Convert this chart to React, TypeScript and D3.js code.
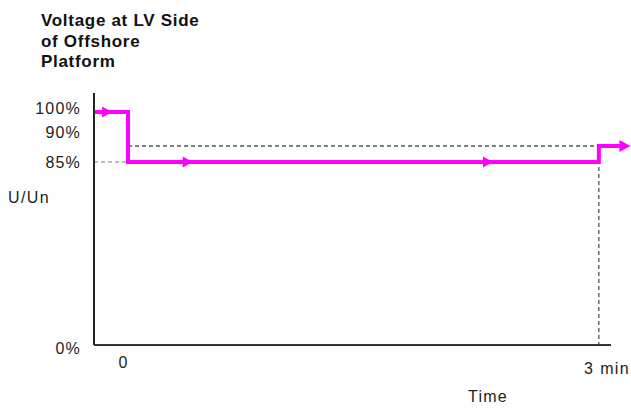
import React from "react";
import * as d3 from "d3";

const titleLines = ["Voltage at LV Side", "of Offshore", "Platform"];
// voltage levels (percent) used in the schematic
const yTickValues = [100, 90, 85, 0];
const yTickLabels = ["100%", "90%", "85%", "0%"];
const xTickValues = [0, 3];
const xTickLabels = ["0", "3 min"];
// magenta voltage trace: [time (min), U/Un %]
const traceTime = [-0.21, 0, 0, 2.98, 2.98, 3.18];
const traceLevel = [100, 100, 85, 85, 90, 90];
// direction arrows along the trace: [time, level]
const arrowTime = [-0.1, 0.41, 2.31];
const arrowLevel = [100, 85, 85];
const refLevelHigh = 90;
const refLevelLow = 85;

const W = 631;
const H = 410;

export default function App() {
  const x = d3.scaleLinear().domain([0, 3]).range([128, 602]);
  // schematic, non-uniform vertical scale
  const y = d3.scaleLinear().domain([0, 85, 90, 100]).range([345, 162, 146, 112]);
  const yLabel = d3.scaleLinear().domain([0, 85, 90, 100]).range([348, 162, 132, 108.5]);

  const xAxisStart = x.invert(94);
  const xAxisEnd = x.invert(611);
  const yAxisTop = y.invert(93);

  const pts: [number, number][] = traceTime.map((t, i) => [x(t), y(traceLevel[i])]);
  const line = d3.line();
  const lastIdx = pts.length - 1;
  const tip = pts[lastIdx];
  const shaftEnd: [number, number] = [tip[0] - 9, tip[1]];
  const shaft = [...pts.slice(0, lastIdx), shaftEnd];

  const tri = (cx: number, cy: number, len: number, half: number) =>
    `M${cx},${cy} L${cx - len},${cy - half} L${cx - len},${cy + half} Z`;

  const font = "'Liberation Sans', Arial, sans-serif";
  const grayDark = "#555";

  return (
    <svg
      width={W}
      height={H}
      style={{ position: "absolute", left: 0, top: 0, background: "#fff" }}
    >
      {titleLines.map((t, i) => (
        <text
          key={t}
          x={41}
          y={26 + i * 20.5}
          fontFamily={font}
          fontWeight="bold"
          fontSize={17}
          letterSpacing={0.7}
          fill="#111"
        >
          {t}
        </text>
      ))}

      {/* reference dashed lines */}
      <line
        x1={x(0)}
        x2={x(2.98)}
        y1={y(refLevelHigh)}
        y2={y(refLevelHigh)}
        stroke={grayDark}
        strokeWidth={1.3}
        strokeDasharray="4,3"
      />
      <line
        x1={x(xAxisStart)}
        x2={x(0)}
        y1={y(refLevelLow)}
        y2={y(refLevelLow)}
        stroke="#aaa"
        strokeWidth={1.3}
        strokeDasharray="4,3"
      />
      <line
        x1={x(2.98)}
        x2={x(2.98)}
        y1={y(refLevelHigh)}
        y2={y(0)}
        stroke={grayDark}
        strokeWidth={1.3}
        strokeDasharray="4,3"
      />

      {/* axes */}
      <line x1={x(xAxisStart)} x2={x(xAxisStart)} y1={y(yAxisTop)} y2={y(0)} stroke="#222" strokeWidth={2} />
      <line x1={x(xAxisStart)} x2={x(xAxisEnd)} y1={y(0)} y2={y(0)} stroke="#333" strokeWidth={2} />

      {/* trace */}
      <path d={line(shaft) || ""} fill="none" stroke="#ff00ff" strokeWidth={4} strokeLinejoin="miter" />
      <path d={tri(tip[0], tip[1], 11, 6)} fill="#ff00ff" />
      {arrowTime.map((t, i) => (
        <path key={i} d={tri(x(t), y(arrowLevel[i]), 10, 5.5)} fill="#ff00ff" />
      ))}

      {/* y tick labels */}
      {yTickValues.map((v, i) => (
        <text
          key={v}
          x={81}
          y={yLabel(v)}
          dy="0.36em"
          textAnchor="end"
          fontFamily={font}
          fontSize={16}
          letterSpacing={1.2}
          fill="#222"
        >
          {yTickLabels[i]}
        </text>
      ))}
      <text x={8} y={197} dy="0.36em" fontFamily={font} fontSize={16} letterSpacing={1.4} fill="#222">
        U/Un
      </text>

      {/* x tick labels */}
      <text x={x(xTickValues[0]) - 5} y={362.5} dy="0.36em" textAnchor="middle" fontFamily={font} fontSize={16} fill="#222">
        {xTickLabels[0]}
      </text>
      <text x={x(xTickValues[1]) - 18} y={368} dy="0.36em" fontFamily={font} fontSize={16} letterSpacing={1.4} fill="#222">
        {xTickLabels[1]}
      </text>
      <text x={468} y={396} dy="0.36em" fontFamily={font} fontSize={16} letterSpacing={1.2} fill="#222">
        Time
      </text>
    </svg>
  );
}
